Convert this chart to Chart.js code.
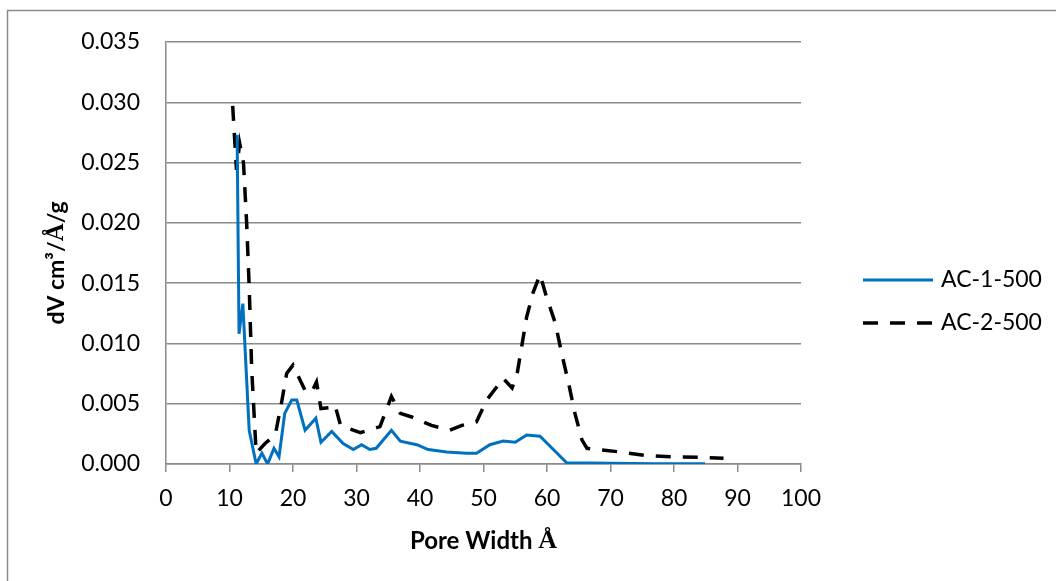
<!DOCTYPE html>
<html>
<head>
<meta charset="utf-8">
<script src="https://cdn.jsdelivr.net/npm/chart.js@4.4.1/dist/chart.umd.min.js"></script>
<style>
  html, body { margin: 0; padding: 0; background: #ffffff; }
  #wrap { width: 1056px; height: 581px; position: relative; }
</style>
</head>
<body>
<div id="wrap"><canvas id="c" width="1056" height="581"></canvas></div>
<script>
// Pore size distribution, AC-1-500
const poreWidth1 = [11.2, 11.5, 12.1, 13.1, 14.2, 15.1, 16.0, 17.0, 17.8, 18.7, 19.8, 20.6, 21.9, 23.6, 24.4, 26.1, 27.9, 29.5, 30.8, 32.1, 33.1, 35.5, 36.9, 39.5, 41.3, 44.2, 47.3, 48.9, 51.0, 53.1, 55.0, 56.8, 58.9, 61.0, 63.1, 70.0, 77.0, 84.9];
const dv1 = [0.0273, 0.0108, 0.0133, 0.0028, 0.0000, 0.0009, 0.0000, 0.0013, 0.0006, 0.0042, 0.0053, 0.0053, 0.0028, 0.0038, 0.0018, 0.0027, 0.0017, 0.0012, 0.0016, 0.0012, 0.0013, 0.0028, 0.0019, 0.0016, 0.0012, 0.0010, 0.0009, 0.0009, 0.0016, 0.0019, 0.0018, 0.0024, 0.0023, 0.0012, 0.0001, 0.00007, 0.00003, 0.00002];

// Pore size distribution, AC-2-500
const poreWidth2 = [10.5, 11.1, 11.6, 12.2, 12.7, 13.1, 13.5, 14.2, 15.6, 17.2, 18.2, 19.0, 20.0, 21.9, 22.9, 23.7, 24.4, 26.1, 26.6, 27.5, 30.6, 33.7, 35.5, 36.9, 38.7, 41.8, 44.7, 46.6, 48.9, 50.5, 53.1, 54.5, 55.3, 56.0, 56.8, 57.8, 58.9, 59.9, 61.3, 62.3, 63.4, 64.4, 65.5, 66.3, 71.5, 75.7, 79.8, 84.1, 87.8];
const dv2 = [0.0297, 0.0244, 0.0266, 0.0250, 0.0200, 0.0147, 0.0078, 0.0009, 0.0017, 0.0024, 0.0051, 0.0075, 0.0082, 0.0061, 0.0059, 0.0068, 0.0046, 0.0047, 0.0049, 0.0032, 0.0026, 0.0031, 0.0056, 0.0042, 0.0039, 0.0032, 0.0028, 0.0032, 0.0035, 0.0053, 0.0071, 0.0063, 0.0075, 0.0097, 0.0122, 0.0142, 0.0157, 0.0139, 0.0117, 0.0092, 0.0067, 0.0042, 0.0020, 0.0013, 0.0010, 0.0007, 0.0006, 0.00055, 0.00047];

const seriesNames = ['AC-1-500', 'AC-2-500'];
const xTicks = [0, 10, 20, 30, 40, 50, 60, 70, 80, 90, 100];
const yTicks = [0, 0.005, 0.010, 0.015, 0.020, 0.025, 0.030, 0.035];

const BLUE = '#0070C0';
const GRID = '#8a8a8a';
const FONT = 'Lato, "Open Sans", sans-serif';
const SERIF = '"Liberation Serif", "DejaVu Serif", serif';

const pairs = (xs, ys) => xs.map((x, i) => ({ x: x, y: ys[i] }));

// white background and the chart frame
const framePlugin = {
  id: 'frame',
  beforeDraw(chart) {
    const ctx = chart.ctx;
    ctx.save();
    ctx.fillStyle = '#ffffff';
    ctx.fillRect(0, 0, chart.width, chart.height);
    ctx.strokeStyle = '#8a8a8a';
    ctx.lineWidth = 1.5;
    ctx.beginPath();
    ctx.moveTo(7.5, chart.height + 2);
    ctx.lineTo(7.5, 10.5);
    ctx.lineTo(chart.width + 2, 10.5);
    ctx.stroke();
    ctx.restore();
  }
};

// draws a run of [text, font] pieces centred on (0,0)
function drawPieces(ctx, pieces) {
  let total = 0;
  const widths = pieces.map(p => { ctx.font = p[1]; const w = ctx.measureText(p[0]).width; total += w; return w; });
  let x = -total / 2;
  pieces.forEach((p, i) => {
    ctx.font = p[1];
    ctx.fillText(p[0], x, 0);
    x += widths[i];
  });
}

// axis titles (the Å sign is set in a serif face) and the legend
const annotatePlugin = {
  id: 'annotate',
  afterDraw(chart) {
    const ctx = chart.ctx;
    const area = chart.chartArea;
    const bold = 'bold 24px ' + FONT;
    const boldSerif = 'bold 26px ' + SERIF;
    ctx.save();
    ctx.fillStyle = '#000000';
    ctx.textBaseline = 'middle';
    ctx.textAlign = 'left';

    ctx.save();
    ctx.translate((area.left + area.right) / 2, 541);
    drawPieces(ctx, [['Pore Width ', bold], ['Å', boldSerif]]);
    ctx.restore();

    ctx.save();
    ctx.translate(57, (area.top + area.bottom) / 2 + 10);
    ctx.rotate(-Math.PI / 2);
    drawPieces(ctx, [['dV cm³/', 'bold 23px ' + FONT], ['Å', 'bold 25px ' + SERIF], ['/g', 'bold 23px ' + FONT]]);
    ctx.restore();

    // legend
    const lx0 = 863, lx1 = 933;
    const rows = [280, 323];
    chart.data.datasets.forEach((ds, i) => {
      ctx.save();
      ctx.strokeStyle = ds.borderColor;
      ctx.lineWidth = ds.borderWidth;
      ctx.setLineDash(ds.borderDash || []);
      ctx.beginPath();
      ctx.moveTo(lx0, rows[i]);
      ctx.lineTo(lx1, rows[i]);
      ctx.stroke();
      ctx.restore();
      ctx.font = '23px ' + FONT;
      ctx.fillText(ds.label, 941, rows[i]);
    });
    ctx.restore();
  }
};

new Chart(document.getElementById('c'), {
  type: 'line',
  data: {
    datasets: [
      {
        label: seriesNames[0],
        data: pairs(poreWidth1, dv1),
        borderColor: BLUE,
        borderWidth: 3,
        pointRadius: 0,
        tension: 0,
        fill: false
      },
      {
        label: seriesNames[1],
        data: pairs(poreWidth2, dv2),
        borderColor: '#000000',
        borderWidth: 3.5,
        borderDash: [15, 12],
        pointRadius: 0,
        tension: 0,
        fill: false
      }
    ]
  },
  options: {
    responsive: false,
    animation: false,
    layout: { padding: { top: 42, right: 255, bottom: 0, left: 0 } },
    plugins: {
      legend: { display: false },
      tooltip: { enabled: false }
    },
    scales: {
      x: {
        type: 'linear',
        min: 0,
        max: 100,
        afterBuildTicks(scale) { scale.ticks = xTicks.map(v => ({ value: v })); },
        afterFit(scale) { scale.height = 117; },
        ticks: {
          color: '#000000',
          font: { family: FONT, size: 23 },
          padding: 13,
          maxRotation: 0,
          callback: v => String(v)
        },
        grid: {
          drawOnChartArea: false,
          drawTicks: true,
          tickLength: 8,
          color: GRID,
          lineWidth: 1.5
        },
        border: { color: GRID, width: 1.5 }
      },
      y: {
        min: 0,
        max: 0.035,
        afterBuildTicks(scale) { scale.ticks = yTicks.map(v => ({ value: v })); },
        afterFit(scale) { scale.width = 166; },
        ticks: {
          color: '#000000',
          font: { family: FONT, size: 23 },
          padding: 26,
          callback: v => v.toFixed(3)
        },
        grid: {
          drawTicks: false,
          color: GRID,
          lineWidth: 1.5
        },
        border: { color: GRID, width: 1.5 }
      }
    }
  },
  plugins: [framePlugin, annotatePlugin]
});
</script>
</body>
</html>
